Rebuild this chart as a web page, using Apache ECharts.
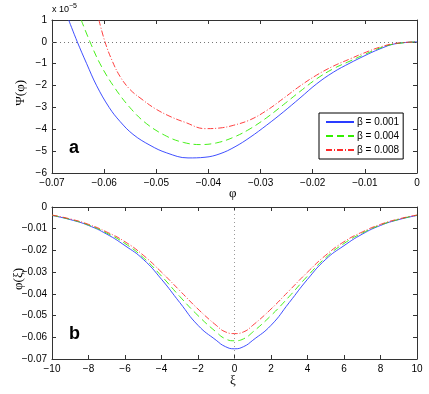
<!DOCTYPE html>
<html><head><meta charset="utf-8">
<script src="https://cdn.jsdelivr.net/npm/echarts@6/dist/echarts.min.js"></script>
<style>html,body{margin:0;padding:0;background:#fff}#c{width:429px;height:394px}</style>
</head><body><div id="c"></div>
<script>
// Panel a: Sagdeev potential Psi(phi), units of 1e-5
var phiBlue = [-0.0668,-0.06515,-0.06335,-0.06143,-0.05901,-0.05696,-0.05447,-0.05121,-0.04800,-0.04392,-0.04066,-0.03778,-0.03490,-0.03203,-0.02883,-0.02564,-0.02244,-0.01924,-0.01605,-0.01285,-0.01017,-0.00710,-0.00422,0];
var psiBlue = [1,0,-1.00,-2.01,-3.01,-3.64,-4.23,-4.73,-5.08,-5.31,-5.28,-5.12,-4.80,-4.37,-3.81,-3.21,-2.57,-1.92,-1.39,-0.97,-0.65,-0.32,-0.09,0];
var phiGreen = [-0.0644,-0.06271,-0.06079,-0.05824,-0.05504,-0.05184,-0.04800,-0.04482,-0.04162,-0.03841,-0.03523,-0.03203,-0.02883,-0.02564,-0.02244,-0.01924,-0.01605,-0.01285,-0.01017,-0.00710,-0.00422,0];
var psiGreen = [1,0,-1.00,-2.01,-3.01,-3.75,-4.32,-4.60,-4.70,-4.62,-4.37,-3.98,-3.47,-2.88,-2.27,-1.69,-1.23,-0.88,-0.59,-0.28,-0.09,0];
var phiRed = [-0.0610,-0.05984,-0.05849,-0.05696,-0.05504,-0.05274,-0.05025,-0.04737,-0.04449,-0.04066,-0.03778,-0.03523,-0.03203,-0.02883,-0.02564,-0.02244,-0.01924,-0.01605,-0.01285,-0.01017,-0.00710,-0.00422,0];
var psiRed = [1,0,-0.85,-1.58,-2.18,-2.63,-3.05,-3.41,-3.68,-3.97,-3.94,-3.82,-3.57,-3.14,-2.59,-2.02,-1.52,-1.11,-0.78,-0.51,-0.24,-0.07,0];
// Panel b: soliton profiles phi(xi)
var xi = [-10,-9,-8,-7,-6,-5,-4,-3,-2,-1,-0.5,0,0.5,1,2,3,4,5,6,7,8,9,10];
var solBlue = [-0.0039,-0.0058,-0.0085,-0.0125,-0.0178,-0.0241,-0.0333,-0.0440,-0.0545,-0.0614,-0.0643,-0.0653,-0.0643,-0.0614,-0.0545,-0.0440,-0.0333,-0.0241,-0.0178,-0.0125,-0.0085,-0.0058,-0.0039];
var solGreen = [-0.0038,-0.0057,-0.0083,-0.0120,-0.0168,-0.0233,-0.0318,-0.0412,-0.0500,-0.0576,-0.0607,-0.0616,-0.0607,-0.0576,-0.0500,-0.0412,-0.0318,-0.0233,-0.0168,-0.0120,-0.0083,-0.0057,-0.0038];
var solRed = [-0.0037,-0.0055,-0.0080,-0.0115,-0.0160,-0.0222,-0.0300,-0.0385,-0.0470,-0.0545,-0.0575,-0.0583,-0.0575,-0.0545,-0.0470,-0.0385,-0.0300,-0.0222,-0.0160,-0.0115,-0.0080,-0.0055,-0.0037];
var seriesNames = ['β = 0.001','β = 0.004','β = 0.008'];
var colors = ['#2a3cff','#33ee00','#ff2a2a'];
var lineTypes = ['solid',[7,4],[6,2,1,2]];

function pairs(xs, ys){ return xs.map(function(x,i){return [x, ys[i]];}); }
function fmt(d){ return function(v){ var r = Math.round(v*Math.pow(10,d))/Math.pow(10,d); var s = (r===0)?'0':r.toFixed(d); return s.replace('-','\u2212'); }; }

var FONT = 'Liberation Sans';
var axisCol = '#333';
function mainX(grid, min, max, interval, d){
  return {type:'value', gridIndex:grid, min:min, max:max, interval:interval, position:'bottom',
    axisLine:{show:true, onZero:false, lineStyle:{color:axisCol,width:1}},
    axisTick:{show:true, inside:true, length:4, lineStyle:{color:axisCol}},
    axisLabel:{fontFamily:FONT, fontSize:10, color:'#000', margin:5, formatter:fmt(d)},
    splitLine:{show:false}};
}
function mainY(grid, min, max, interval, d){
  return {type:'value', gridIndex:grid, min:min, max:max, interval:interval, position:'left',
    axisLine:{show:true, onZero:false, lineStyle:{color:axisCol,width:1}},
    axisTick:{show:true, inside:true, length:4, lineStyle:{color:axisCol}},
    axisLabel:{fontFamily:FONT, fontSize:10, color:'#000', margin:5, formatter:fmt(d)},
    splitLine:{show:false}};
}
function secX(grid, min, max, interval){
  return {type:'value', gridIndex:grid, min:min, max:max, interval:interval, position:'top',
    axisLine:{show:true, onZero:false, lineStyle:{color:axisCol,width:1}},
    axisTick:{show:true, inside:true, length:4, lineStyle:{color:axisCol}},
    axisLabel:{show:false}, splitLine:{show:false}};
}
function secY(grid, min, max, interval){
  return {type:'value', gridIndex:grid, min:min, max:max, interval:interval, position:'right',
    axisLine:{show:true, onZero:false, lineStyle:{color:axisCol,width:1}},
    axisTick:{show:true, inside:true, length:4, lineStyle:{color:axisCol}},
    axisLabel:{show:false}, splitLine:{show:false}};
}

var topData = [pairs(phiBlue,psiBlue), pairs(phiGreen,psiGreen), pairs(phiRed,psiRed)];
var botData = [pairs(xi,solBlue), pairs(xi,solGreen), pairs(xi,solRed)];
var series = [];
for (var i=0;i<3;i++){
  var s = {name:seriesNames[i], type:'line', xAxisIndex:0, yAxisIndex:0, data:topData[i], smooth:0.4,
    symbol:'none', lineStyle:{color:colors[i], width:0.9, type:lineTypes[i]}, itemStyle:{color:colors[i]}, animation:false};
  if (i===0) s.markLine = {silent:true, symbol:'none', label:{show:false}, lineStyle:{color:'#777', type:[1,3], width:1}, data:[{yAxis:0}]};
  series.push(s);
}
for (var j=0;j<3;j++){
  var s2 = {name:seriesNames[j], type:'line', xAxisIndex:2, yAxisIndex:2, data:botData[j], smooth:0.5,
    symbol:'none', lineStyle:{color:colors[j], width:0.9, type:lineTypes[j]}, itemStyle:{color:colors[j]}, animation:false};
  if (j===0) s2.markLine = {silent:true, symbol:'none', label:{show:false}, lineStyle:{color:'#999', type:[1,3], width:1}, data:[{xAxis:0}]};
  series.push(s2);
}

var chart = echarts.init(document.getElementById('c'), null, {renderer:'canvas'});
chart.setOption({
  animation:false,
  backgroundColor:'#fff',
  grid:[{left:52, right:12, top:20, height:153}, {left:52, right:12, top:207, height:152}],
  xAxis:[mainX(0,-0.07,0,0.01,2), secX(0,-0.07,0,0.01), mainX(1,-10,10,2,0), secX(1,-10,10,2)],
  yAxis:[mainY(0,-6,1,1,0), secY(0,-6,1,1), mainY(1,-0.07,0,0.01,2), secY(1,-0.07,0,0.01)],
  legend:{data:seriesNames, orient:'vertical', left:319, top:113, width:83, height:47,
    backgroundColor:'#fff', borderColor:'#000', borderWidth:1, padding:[4,4,4,6], itemGap:4,
    itemWidth:28, itemHeight:10, itemStyle:{opacity:0},
    textStyle:{fontFamily:FONT, fontSize:10, color:'#000', padding:[0,0,0,-2]}},
  series:series,
  graphic:[
    {type:'text', left:52, top:3, style:{text:'x 10{s|\u22125}', fontFamily:FONT, fontSize:9, fill:'#000', rich:{s:{fontSize:7, verticalAlign:'top', padding:[0,0,6,0], fontFamily:FONT}}}},
    {type:'text', left:14, top:80, rotation:Math.PI/2, style:{text:'\u03a8(\u03c6)', fontFamily:'Liberation Serif', fontSize:13, fill:'#000'}},
    {type:'text', left:12, top:268, rotation:Math.PI/2, style:{text:'\u03c6(\u03be)', fontFamily:'Liberation Serif', fontSize:13, fill:'#000'}},
    {type:'text', left:229, top:187, style:{text:'\u03c6', fontFamily:'Liberation Serif', fontSize:13, fill:'#000'}},
    {type:'text', left:230, top:374, style:{text:'\u03be', fontFamily:'Liberation Serif', fontSize:13, fill:'#000'}},
    {type:'text', left:69, top:139, style:{text:'a', fontFamily:FONT, fontWeight:'bold', fontSize:18, fill:'#000'}},
    {type:'text', left:69, top:325, style:{text:'b', fontFamily:FONT, fontWeight:'bold', fontSize:18, fill:'#000'}}
  ]
});
</script></body></html>
